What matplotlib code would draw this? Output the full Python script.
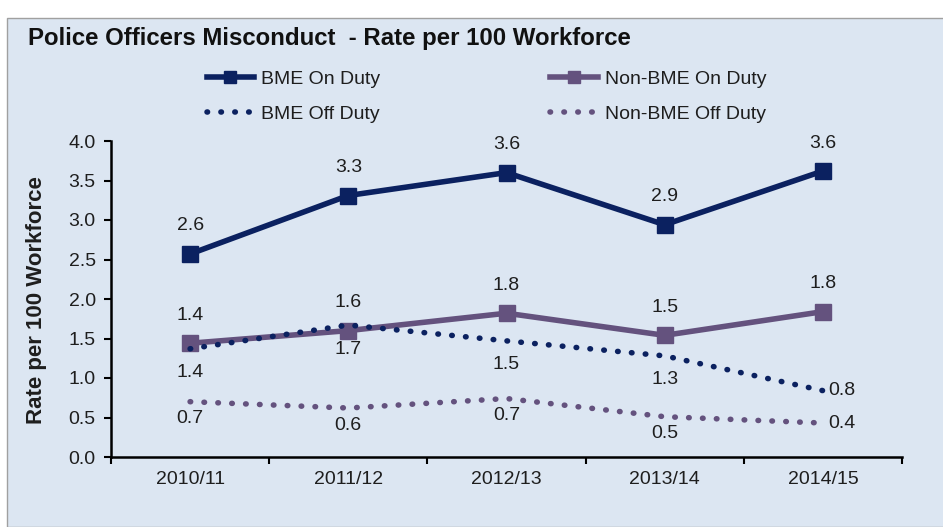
import matplotlib.pyplot as plt
from matplotlib.patches import Rectangle
from matplotlib.lines import Line2D

plt.rcParams['font.family'] = ['Liberation Sans', 'DejaVu Sans']

# Data
years = ['2010/11', '2011/12', '2012/13', '2013/14', '2014/15']
bme_on = [2.57, 3.31, 3.60, 2.94, 3.62]
non_bme_on = [1.44, 1.60, 1.82, 1.54, 1.84]
bme_off = [1.37, 1.67, 1.47, 1.28, 0.84]
non_bme_off = [0.70, 0.62, 0.74, 0.51, 0.43]

navy = '#0b2160'
purple = '#64527e'
bg = '#dce6f2'
txt = '#1e1e1e'

fig = plt.figure(figsize=(9.43, 5.27), dpi=100, facecolor='white')
# chart area box
fig.patches.append(Rectangle((7 / 943, 0), 1.0, 1 - 18 / 527, transform=fig.transFigure,
                             facecolor=bg, edgecolor='#a0a0a0', linewidth=1.0, zorder=-10))

ax = fig.add_axes([111 / 943, 1 - 457 / 527, 791 / 943, 316 / 527])
ax.set_facecolor(bg)
x = list(range(len(years)))

dots = (0, (0.1, 2.4))
ax.plot(x, bme_on, color=navy, linewidth=4, marker='s', markersize=12)
ax.plot(x, non_bme_on, color=purple, linewidth=4, marker='s', markersize=12)
ax.plot(x, bme_off, color=navy, linewidth=4, linestyle=dots, dash_capstyle='round')
ax.plot(x, non_bme_off, color=purple, linewidth=4, linestyle=dots, dash_capstyle='round')

fs = 14


def label(xi, yi, dx, dy, ha='center'):
    ax.annotate(f'{yi:.1f}', (xi, yi), xytext=(dx, dy), textcoords='offset pixels',
                ha=ha, va='center', fontsize=fs, color=txt)


last = len(years) - 1
for i in x:
    label(i, bme_on[i], 0, 28)
    label(i, non_bme_on[i], 0, 28)
    if i < last:
        label(i, bme_off[i], 0, -24)
        label(i, non_bme_off[i], 0, -17)
    else:
        label(i, bme_off[i], 5, 0, ha='left')
        label(i, non_bme_off[i], 5, 0, ha='left')

ax.set_xlim(-0.5, len(years) - 0.5)
ax.set_ylim(0, 4.0)
ax.set_yticks([0, 0.5, 1.0, 1.5, 2.0, 2.5, 3.0, 3.5, 4.0])
ax.set_yticklabels([f'{v:.1f}' for v in ax.get_yticks()], fontsize=fs, color=txt)
ax.set_xticks(x)
ax.set_xticklabels(years, fontsize=fs, color=txt)
ax.tick_params(axis='x', length=0, pad=10)
ax.set_xticks([i - 0.5 for i in range(len(years) + 1)], minor=True)
ax.tick_params(axis='x', which='minor', length=5, width=1.5, direction='out', color='black')
ax.tick_params(axis='y', length=5, width=1.5, direction='out', color='black', pad=6)
for s in ['top', 'right']:
    ax.spines[s].set_visible(False)
for s in ['left', 'bottom']:
    ax.spines[s].set_linewidth(1.8)
    ax.spines[s].set_color('black')

fig.text(37 / 943, 1 - 300 / 527, 'Rate per 100 Workforce', rotation=90, fontsize=16,
         fontweight='bold', color=txt, ha='center', va='center')

fig.text(28 / 943, 1 - 38 / 527, 'Police Officers Misconduct  - Rate per 100 Workforce',
         fontsize=17.3, fontweight='bold', va='center', ha='left', color='#111111')

handles = [
    Line2D([], [], color=navy, linewidth=4, marker='s', markersize=9),
    Line2D([], [], color=navy, linewidth=4, linestyle=dots, dash_capstyle='round'),
    Line2D([], [], color=purple, linewidth=4, marker='s', markersize=9),
    Line2D([], [], color=purple, linewidth=4, linestyle=dots, dash_capstyle='round'),
]
labels = ['BME On Duty', 'BME Off Duty', 'Non-BME On Duty', 'Non-BME Off Duty']
fig.legend(handles, labels, ncol=2, frameon=False, fontsize=14, loc='upper left',
           bbox_to_anchor=(189 / 943, 1 - 53 / 527), handlelength=2.45, handletextpad=0.35,
           labelspacing=0.9, columnspacing=8.75, labelcolor=txt)

plt.savefig('out.png', dpi=100, facecolor=fig.get_facecolor())
